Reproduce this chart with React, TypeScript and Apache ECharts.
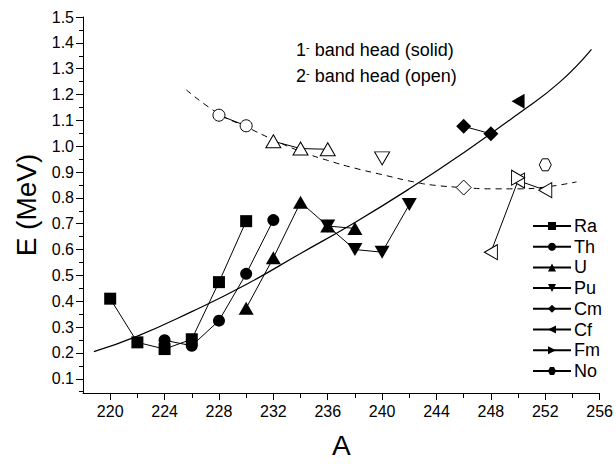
import React, { useEffect, useRef } from "react";
import * as echarts from "echarts";

// ---- tick labels ----
const xTicks = [220, 224, 228, 232, 236, 240, 244, 248, 252, 256];
const xMinorTicks = [222, 226, 230, 234, 238, 242, 246, 250, 254];
const yTicks = [0.1, 0.2, 0.3, 0.4, 0.5, 0.6, 0.7, 0.8, 0.9, 1.0, 1.1, 1.2, 1.3, 1.4, 1.5];
const yMinorTicks = [0.05, 0.15, 0.25, 0.35, 0.45, 0.55, 0.65, 0.75, 0.85, 0.95, 1.05, 1.15, 1.25, 1.35, 1.45];

// ---- 1- band head (solid symbols) ----
const raA = [220, 222, 224, 226, 228, 230];
const raE = [0.41, 0.241, 0.215, 0.253, 0.474, 0.71];
const thA = [224, 226, 228, 230, 232];
const thE = [0.249, 0.228, 0.325, 0.506, 0.714];
const uA = [230, 232, 234, 236, 238];
const uE = [0.373, 0.568, 0.783, 0.691, 0.682];
const puA = [236, 238, 240, 242];
const puE = [0.691, 0.6, 0.59, 0.774];
const cmA = [246, 248];
const cmE = [1.077, 1.048];
const cfA = [250];
const cfE = [1.174];
const fmA: number[] = [];
const fmE: number[] = [];
const noA: number[] = [];
const noE: number[] = [];

// ---- 2- band head (open symbols) ----
const thOpenA = [228, 230];
const thOpenE = [1.12, 1.079];
const uOpenA = [232, 234, 236];
const uOpenE = [1.019, 0.991, 0.988];
const puOpenA = [240];
const puOpenE = [0.953];
const cmOpenA = [246];
const cmOpenE = [0.84];
const cfOpenA = [248, 250, 252];
const cfOpenE = [0.59, 0.867, 0.83];
const fmOpenA = [250];
const fmOpenE = [0.878];
const noOpenA = [252];
const noOpenE = [0.928];

// ---- systematics curves ----
const solidA = [218.8, 222, 226, 230, 234, 238, 242, 246, 250, 253, 255.4];
const solidE = [0.205, 0.265, 0.36, 0.465, 0.585, 0.705, 0.835, 0.975, 1.125, 1.245, 1.375];
const dashA = [225.6, 228, 230, 232, 234, 236, 238, 240, 242.5, 244, 246, 248, 250, 252, 254.3];
const dashE = [1.218, 1.125, 1.075, 1.025, 0.98, 0.945, 0.915, 0.89, 0.86, 0.848, 0.84, 0.835, 0.835, 0.842, 0.862];

const legendNames = ["Ra", "Th", "U", "Pu", "Cm", "Cf", "Fm", "No"];

const HEX = "path://M-1,0L-0.5,-0.866L0.5,-0.866L1,0L0.5,0.866L-0.5,0.866Z";

const zip = (a: number[], e: number[]) => a.map((v, i) => [v, e[i]]);

const FONT = "Liberation Sans";

export default function App() {
  const ref = useRef<HTMLDivElement>(null);
  useEffect(() => {
    if (!ref.current) return;
    const chart = echarts.init(ref.current, undefined, { renderer: "svg" });

    const solid = (name: string, a: number[], e: number[], symbol: string, size: any, rotate = 0) => ({
      name,
      type: "line",
      data: zip(a, e),
      symbol,
      symbolSize: size,
      symbolRotate: rotate,
      showSymbol: true,
      lineStyle: { color: "#000", width: 1 },
      itemStyle: { color: "#000", borderWidth: 0 },
      z: 3,
    });
    const open = (name: string, a: number[], e: number[], symbol: string, size: any, rotate = 0) => ({
      name,
      type: "line",
      data: zip(a, e),
      symbol,
      symbolSize: size,
      symbolRotate: rotate,
      showSymbol: true,
      lineStyle: { color: "#000", width: 1 },
      itemStyle: { color: "#fff", borderColor: "#000", borderWidth: 1 },
      z: 3,
    });

    const rich = {
      n: { fontSize: 18, fill: "#000", fontFamily: FONT },
      s: { fontSize: 11, fill: "#000", fontFamily: FONT, verticalAlign: "top" },
    };

    const legends = legendNames.map((n, i) => ({
      data: [n],
      orient: "vertical",
      left: 532,
      top: 217 + i * 20.7,
      itemWidth: 38,
      itemHeight: 10,
      padding: 0,
      textStyle: { fontSize: 18, color: "#000", fontFamily: FONT, padding: [0, 0, 0, -2] },
    }));

    chart.setOption({
      animation: false,
      backgroundColor: "#fff",
      textStyle: { fontFamily: FONT },
      grid: { left: 83, right: 15, top: 17, bottom: 64 },
      xAxis: [
        {
          type: "value",
          min: 218,
          max: 256,
          name: "A",
          nameLocation: "middle",
          nameGap: 38,
          nameTextStyle: { fontSize: 28, color: "#000", fontFamily: FONT },
          axisLine: { lineStyle: { color: "#000", width: 1 } },
          axisTick: { show: true, length: 7, inside: false, customValues: xTicks, lineStyle: { color: "#000" } },
          axisLabel: { customValues: xTicks, fontSize: 16, color: "#000", margin: 10, fontFamily: FONT },
          splitLine: { show: false },
        },
        {
          type: "value",
          min: 218,
          max: 256,
          position: "bottom",
          axisLine: { show: false },
          axisTick: { show: true, length: 5, customValues: xMinorTicks, lineStyle: { color: "#000" } },
          axisLabel: { show: false },
          splitLine: { show: false },
        },
      ],
      yAxis: [
        {
          type: "value",
          min: 0.045,
          max: 1.5,
          name: "E (MeV)",
          nameLocation: "middle",
          nameGap: 31,
          nameRotate: 90,
          nameTextStyle: { fontSize: 28, color: "#000", fontFamily: FONT },
          axisLine: { show: true, lineStyle: { color: "#000", width: 1 } },
          axisTick: { show: true, length: 7, customValues: yTicks, lineStyle: { color: "#000" } },
          axisLabel: {
            customValues: yTicks,
            fontSize: 16,
            color: "#000",
            margin: 9,
            fontFamily: FONT,
            formatter: (v: number) => v.toFixed(1),
          },
          splitLine: { show: false },
        },
        {
          type: "value",
          min: 0.045,
          max: 1.5,
          position: "left",
          axisLine: { show: false },
          axisTick: { show: true, length: 4, customValues: yMinorTicks, lineStyle: { color: "#000" } },
          axisLabel: { show: false },
          splitLine: { show: false },
        },
      ],
      legend: legends,
      graphic: [
        {
          type: "text",
          left: 296,
          top: 41,
          style: { text: "{n|1}{s|-}{n| band head (solid)}", rich },
        },
        {
          type: "text",
          left: 296,
          top: 67,
          style: { text: "{n|2}{s|-}{n| band head (open)}", rich },
        },
      ],
      series: [
        {
          name: "solidCurve",
          type: "line",
          data: zip(solidA, solidE),
          smooth: 0.5,
          symbol: "none",
          silent: true,
          lineStyle: { color: "#000", width: 1.2 },
          z: 2,
        },
        {
          name: "dashCurve",
          type: "line",
          data: zip(dashA, dashE),
          smooth: 0.5,
          symbol: "none",
          silent: true,
          lineStyle: { color: "#000", width: 1, type: [6, 5] },
          z: 2,
        },
        solid("Ra", raA, raE, "rect", 12),
        solid("Th", thA, thE, "circle", 12),
        solid("U", uA, uE, "triangle", [15, 13]),
        solid("Pu", puA, puE, "triangle", [15, 13], 180),
        solid("Cm", cmA, cmE, "diamond", [15, 15]),
        solid("Cf", cfA, cfE, "triangle", [15, 13], 90),
        solid("Fm", fmA, fmE, "triangle", [15, 13], -90),
        solid("No", noA, noE, HEX, 12),
        open("Th open", thOpenA, thOpenE, "circle", 12),
        open("U open", uOpenA, uOpenE, "triangle", [15, 13]),
        open("Pu open", puOpenA, puOpenE, "triangle", [15, 13], 180),
        open("Cm open", cmOpenA, cmOpenE, "diamond", [15, 15]),
        open("Cf open", cfOpenA, cfOpenE, "triangle", [15, 13], 90),
        open("Fm open", fmOpenA, fmOpenE, "triangle", [15, 13], -90),
        open("No open", noOpenA, noOpenE, HEX, 12),
      ],
    });
    return () => chart.dispose();
  }, []);
  return <div ref={ref} style={{ position: "fixed", left: 0, top: 0, width: 616, height: 464 }} />;
}
